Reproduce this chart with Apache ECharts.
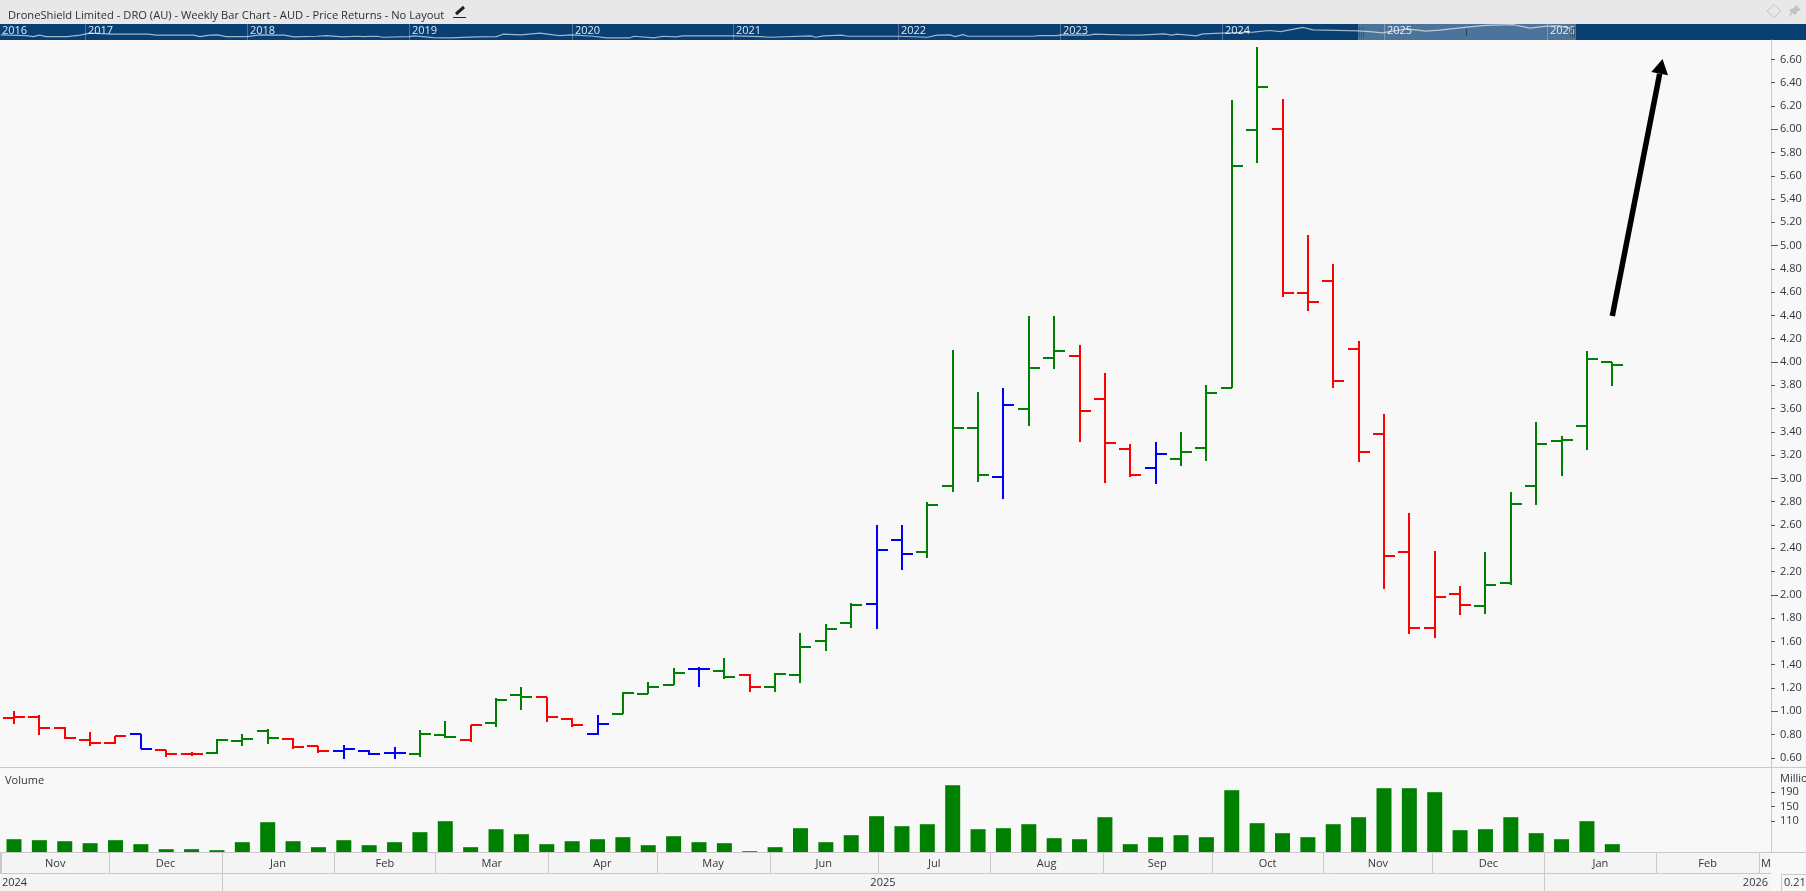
<!DOCTYPE html>
<html>
<head>
<meta charset="utf-8">
<title>DroneShield Limited - DRO (AU)</title>
<style>html,body{margin:0;padding:0;background:#f8f8f8;overflow:hidden}#c{width:1806px;height:891px}</style>
<script src="https://cdn.jsdelivr.net/npm/echarts@6/dist/echarts.min.js"></script>
</head>
<body>
<div id="c"></div>
<script>
const chartTitle = 'DroneShield Limited - DRO (AU) - Weekly Bar Chart - AUD - Price Returns - No Layout';
const opens  = [0.944,0.95,0.856,0.753,0.727,0.8,0.67,0.632,0.641,0.747,0.833,0.764,0.704,0.661,0.661,0.641,0.632,0.796,0.753,0.902,1.142,1.122,0.936,0.804,0.979,1.15,1.228,1.365,1.342,1.308,1.208,1.314,1.603,1.761,1.921,2.471,2.368,2.935,3.433,3.012,3.596,4.034,4.051,3.682,3.252,3.089,3.166,3.261,3.776,5.993,6.0,4.593,4.698,4.111,3.384,2.368,1.715,2.007,1.904,2.101,2.935,3.321,3.45,4.0];
const highs  = [1.0,0.967,0.867,0.818,0.79,0.8,0.67,0.65,0.758,0.801,0.844,0.767,0.704,0.707,0.67,0.69,0.838,0.916,0.884,1.11,1.208,1.125,0.944,0.967,1.162,1.251,1.368,1.377,1.457,1.32,1.331,1.669,1.749,1.927,2.6,2.6,2.797,4.103,3.742,3.777,4.395,4.395,4.146,3.905,3.295,3.312,3.398,3.802,6.251,6.706,6.259,5.091,4.842,4.18,3.553,2.703,2.376,2.076,2.368,2.883,3.484,3.364,4.094,4.0];
const lows   = [0.893,0.795,0.761,0.704,0.718,0.672,0.609,0.612,0.632,0.704,0.721,0.672,0.644,0.592,0.621,0.592,0.609,0.773,0.738,0.867,1.013,0.91,0.867,0.795,0.976,1.145,1.222,1.208,1.279,1.165,1.165,1.245,1.52,1.718,1.709,2.213,2.316,2.883,2.969,2.823,3.45,3.94,3.313,2.96,3.012,2.95,3.106,3.149,3.776,5.709,4.558,4.438,3.776,3.141,2.05,1.666,1.629,1.826,1.835,2.084,2.771,3.021,3.244,3.794];
const closes = [0.95,0.856,0.77,0.727,0.787,0.678,0.632,0.632,0.755,0.764,0.773,0.692,0.658,0.678,0.632,0.641,0.804,0.778,0.881,1.099,1.122,0.95,0.881,0.89,1.159,1.208,1.331,1.365,1.297,1.208,1.322,1.551,1.706,1.912,2.385,2.35,2.771,3.433,3.029,3.63,3.948,4.094,3.579,3.304,3.029,3.209,3.227,3.733,5.684,6.362,4.593,4.515,3.837,3.227,2.333,1.715,1.984,1.912,2.084,2.78,3.296,3.33,4.026,3.974];
const barColors = ['r','r','r','r','r','b','r','r','g','g','g','r','r','b','b','b','g','g','r','g','g','r','r','b','g','g','g','b','g','r','g','g','g','g','b','b','g','g','g','b','g','g','r','r','r','b','g','g','g','g','r','r','r','r','r','r','r','r','g','g','g','g','g','g'];
const volumes = [60.3,57.6,54.8,49.3,57.6,46.6,32.8,32.8,30,52.1,107.2,54.8,38.3,57.6,43.8,52.1,79.7,110,38.3,87.9,74.1,46.6,54.8,60.3,65.9,43.8,68.6,52.1,49.3,27.2,38.3,90.7,52.1,71.4,123.8,96.2,101.7,209.3,87.9,90.7,101.7,63.1,60.3,121,46.6,65.9,71.4,65.9,195.5,104.5,76.9,65.9,101.7,121,201,201,190,85.2,87.9,121,76.9,60.3,110,46.6];
const priceTicks = [0.6,0.8,1,1.2,1.4,1.6,1.8,2,2.2,2.4,2.6,2.8,3,3.2,3.4,3.6,3.8,4,4.2,4.4,4.6,4.8,5,5.2,5.4,5.6,5.8,6,6.2,6.4,6.6];
const priceMajorTicks = [1,2,3,4,5,6];
const volumeTicks = [110,150,190];
const monthNames = ['Nov','Dec','Jan','Feb','Mar','Apr','May','Jun','Jul','Aug','Sep','Oct','Nov','Dec','Jan','Feb'];
const monthEdges = [-0.51,3.76,8.18,12.63,16.61,21.06,25.33,29.78,34.05,38.49,42.91,47.21,51.61,55.91,60.32,64.74,68.77];
const lastMonthStub = 'Mar';
const yearEdges = [8.18,60.32];
const yearNames = ['2024','2025','2026'];
const navYears = [2017,2018,2019,2020,2021,2022,2023,2024,2025,2026];
const navYearMarks = [2017,2018,2019,2020.006,2021,2022.018,2023.019,2024.019,2025.019,2026.025];
const navX = [2016.48,2016.64,2016.68,2016.72,2016.76,2016.89,2016.97,2017.03,2017.17,2017.39,2017.44,2017.67,2017.71,2017.77,2017.82,2017.87,2018.0,2018.08,2018.23,2018.29,2018.43,2018.49,2018.59,2018.68,2018.72,2018.8,2018.84,2019.0,2019.03,2019.15,2019.25,2019.42,2019.54,2019.58,2019.69,
 2019.81,2019.89,2019.93,2020.0,2020.14,2020.22,2020.36,2020.39,2020.51,2020.57,2020.65,2020.69,2021.0,2021.17,2021.23,2021.24,2021.48,2021.51,2021.56,2021.67,2021.71,2022.02,2022.2,2022.26,2022.34,2022.37,2022.42,2022.45,2022.85,2022.89,
 2023.0,2023.02,2023.2,2023.23,2023.39,2023.51,2023.66,2023.71,2023.74,2023.86,2023.9,2024.02,2024.21,2024.31,2024.38,2024.52,2024.58,2024.86,2024.93,2025.01,2025.04,2025.16,2025.28,2025.36,2025.53,2025.65,2025.82,2025.92,2026.02,2026.1,2026.17];
const navLevels = [5,4.3,3.3,4.7,3.3,3.3,4.7,6.7,5.7,5.7,4.7,4.7,3.3,4.7,5,3.3,3.3,5,4.7,3,3.7,4.3,3,3.7,3.3,3.7,2.7,3.3,4,2.3,2,3,3.3,5.7,5,
 6.7,5,4.3,5,3.7,2,2,3.7,2,3.7,3,4,4,3.3,2.7,3.7,4,2.7,4,4.7,3.7,3.7,2.7,4.7,5,3.3,5.3,3.7,3.7,4.3,
 4.3,5,4.7,5.7,5,4.7,6,4.7,5.7,4,6,6.7,7.7,9.3,8.3,12.3,10,9,8.3,7,8,11,8.7,9.7,12.7,14.3,15,11.7,13.7,14,11.7];
const navWindow = [2024.858,2026.204];
const navMarker = 2025.525;
const arrowFrom = [63,4.395];
const arrowTo = [64.98,6.603];

const FONT = '"Open Sans"';
const TXT = '#33333d';
const LINE = '#c9c9c9';
const COLORS = {g:'#008000',r:'#ff0000',b:'#0000ff'};
const xMin = -14/25.37, xMax = 1757/25.37;
const hiddenX = (g)=>({type:'value',gridIndex:g,min:xMin,max:xMax,show:false});
const hiddenY = (g,min,max)=>({type:'value',gridIndex:g,min:min,max:max,show:false});

function rect(x,y,w,h,fill){return {type:'rect',shape:{x:x,y:y,width:w,height:h},style:{fill:fill},silent:true};}

function renderBar(params,api){
  const i=api.value(0);
  const x=Math.round(api.coord([i,0])[0]);
  const py=v=>Math.round(api.coord([i,v])[1]);
  const fill=COLORS[barColors[i]];
  const yH=py(api.value(2)),yL=py(api.value(3));
  return {type:'group',children:[
    rect(x-1,yH,2,Math.max(yL-yH,2),fill),
    rect(x-11,py(api.value(1))-1,11,2,fill),
    rect(x,py(api.value(4))-1,11,2,fill)
  ]};
}
function renderMonth(params,api){
  const i=params.dataIndex;
  const a=api.coord([monthEdges[i],0]);
  const top=params.coordSys.y,h=params.coordSys.height;
  const x0=Math.round(a[0]);
  const kids=[rect(x0,top,1,h,LINE)];
  let tx,align;
  if(i<monthNames.length){
    tx=(a[0]+api.coord([monthEdges[i+1],0])[0])/2;align='center';
  }else{tx=x0+2;align='left';}
  kids.push({type:'text',x:tx,y:top+h/2+1,style:{text:i<monthNames.length?monthNames[i]:lastMonthStub,font:'11px '+FONT,fill:TXT,align:align,verticalAlign:'middle'},silent:true});
  return {type:'group',children:kids};
}
function renderYear(params,api){
  const top=params.coordSys.y,h=params.coordSys.height;
  const kids=yearEdges.map(e=>rect(Math.round(api.coord([e,0])[0]),top,1,h,LINE));
  const e0=api.coord([yearEdges[0],0])[0],e1=api.coord([yearEdges[1],0])[0];
  const T=(t,x,al)=>({type:'text',x:x,y:top+h/2+1,style:{text:t,font:'11px '+FONT,fill:TXT,align:al,verticalAlign:'middle'},silent:true});
  kids.push(T(yearNames[0],2,'left'),T(yearNames[1],(e0+e1)/2,'center'),T(yearNames[2],params.coordSys.x+params.coordSys.width-3,'right'));
  return {type:'group',children:kids};
}
function renderNavMarks(params,api){
  const top=params.coordSys.y,h=params.coordSys.height;
  const kids=[];
  navYearMarks.forEach((m,i)=>{
    const x=Math.round(api.coord([m,0])[0]);
    kids.push(rect(x,top,1,h,'rgba(255,255,255,0.28)'));
    kids.push({type:'text',x:x+3,y:top+h/2-1,style:{text:String(navYears[i]),font:'11px '+FONT,fill:'#dfe7ef',align:'left',verticalAlign:'middle'},silent:true});
  });
  kids.push({type:'text',x:2,y:top+h/2-1,style:{text:'2016',font:'11px '+FONT,fill:'#dfe7ef',align:'left',verticalAlign:'middle'},silent:true});
  const a=Math.round(api.coord([navWindow[0],0])[0]),b=Math.round(api.coord([navWindow[1],0])[0]);
  kids.push(rect(a,top,b-a,h,'rgba(255,255,255,0.27)'));
  [a+1,a+3,a+5,b-6,b-4,b-2].forEach(x=>kids.push(rect(x,top+3,1,h-5,'rgba(70,80,95,0.75)')));
  kids.push(rect(Math.round(api.coord([navMarker,0])[0]),top+5,1,7,'rgba(40,50,65,0.8)'));
  return {type:'group',children:kids};
}
function renderArrow(params,api){
  const s=api.coord(arrowFrom),t=api.coord(arrowTo);
  const dx=t[0]-s[0],dy=t[1]-s[1],L=Math.hypot(dx,dy),ux=dx/L,uy=dy/L,nx=-uy,ny=ux;
  const head=15,half=8.5;
  const bx=t[0]-ux*head,by=t[1]-uy*head;
  return {type:'group',children:[
    {type:'line',shape:{x1:s[0],y1:s[1],x2:bx,y2:by},style:{stroke:'#000',lineWidth:5.5},silent:true},
    {type:'polygon',shape:{points:[[t[0],t[1]],[bx+nx*half,by+ny*half],[bx-nx*half,by-ny*half]]},style:{fill:'#000'},silent:true}
  ]};
}

const barData = highs.map((h,i)=>[i,opens[i],h,lows[i],closes[i]]);
const chart = echarts.init(document.getElementById('c'),null,{renderer:'canvas'});
chart.setOption({
  animation:false,
  backgroundColor:'#f8f8f8',
  textStyle:{fontFamily:FONT},
  title:{text:chartTitle,left:3,top:5,textStyle:{fontSize:11.17,fontWeight:'normal',color:'#2f2f2f',fontFamily:FONT}},
  grid:[
    {left:0,right:0,top:24,height:16,show:true,backgroundColor:'#0a3f73',borderWidth:0},
    {left:0,width:1771,top:40,height:727},
    {left:0,width:1771,top:767,height:85},
    {left:0,width:1771,top:852,height:21,show:true,backgroundColor:'#f4f4f4',borderWidth:0},
    {left:0,width:1771,top:873,height:18,show:true,backgroundColor:'#f4f4f4',borderWidth:0}
  ],
  xAxis:[
    {type:'value',gridIndex:0,min:2016.4753,max:2027.6235,show:false},
    hiddenX(1),hiddenX(2),hiddenX(3),hiddenX(4)
  ],
  yAxis:[
    hiddenY(0,0,15.7),
    {type:'value',gridIndex:1,position:'right',min:4-405/116.4,max:4+322/116.4,splitLine:{show:false},
      axisLine:{show:true,onZero:false,lineStyle:{color:LINE,width:1}},
      axisTick:{show:true,length:4,customValues:priceTicks,lineStyle:{color:'#555',width:1}},
      axisLabel:{show:true,margin:9,customValues:priceTicks,formatter:v=>v.toFixed(2),fontSize:11,color:TXT,fontFamily:FONT}},
    {type:'value',gridIndex:2,position:'right',min:25,max:259.5,splitLine:{show:false},
      axisLine:{show:true,onZero:false,lineStyle:{color:LINE,width:1}},
      axisTick:{show:true,length:4,customValues:volumeTicks,lineStyle:{color:'#555',width:1}},
      axisLabel:{show:true,margin:9,customValues:volumeTicks,formatter:v=>String(v),fontSize:11,color:TXT,fontFamily:FONT}},
    hiddenY(3,0,1),hiddenY(4,0,1),
    {type:'value',gridIndex:1,position:'right',min:4-405/116.4,max:4+322/116.4,splitLine:{show:false},
      axisLine:{show:false,onZero:false},
      axisTick:{show:true,length:7,customValues:priceMajorTicks,lineStyle:{color:'#555',width:1}},
      axisLabel:{show:false}}
  ],
  series:[
    {type:'line',name:'history',xAxisIndex:0,yAxisIndex:0,showSymbol:false,silent:true,z:3,
      lineStyle:{color:'rgba(255,255,255,0.62)',width:1.2},data:navX.map((x,i)=>[x,navLevels[i]])},
    {type:'custom',name:'navMarks',xAxisIndex:0,yAxisIndex:0,silent:true,z:2,renderItem:renderNavMarks,data:[[navWindow[0],0]]},
    {type:'custom',name:'price',xAxisIndex:1,yAxisIndex:1,silent:true,renderItem:renderBar,encode:{x:0,y:[1,2,3,4]},data:barData},
    {type:'custom',name:'arrow',xAxisIndex:1,yAxisIndex:1,silent:true,z:4,renderItem:renderArrow,data:[[arrowTo[0],arrowTo[1]]]},
    {type:'bar',name:'Volume',xAxisIndex:2,yAxisIndex:2,silent:true,barWidth:15,itemStyle:{color:'#008000'},data:volumes.map((v,i)=>[i,v])},
    {type:'custom',name:'months',xAxisIndex:3,yAxisIndex:3,silent:true,clip:true,renderItem:renderMonth,data:monthEdges.map(e=>[e,0.5])},
    {type:'custom',name:'years',xAxisIndex:4,yAxisIndex:4,silent:true,renderItem:renderYear,data:[[0,0.5]]}
  ],
  graphic:[
    {type:'rect',z:0,silent:true,shape:{x:0,y:0,width:1806,height:24},style:{fill:'#e8e8e8'}},
    {type:'line',z:5,silent:true,shape:{x1:0,y1:767.5,x2:1806,y2:767.5},style:{stroke:LINE,lineWidth:1}},
    {type:'line',z:5,silent:true,shape:{x1:0,y1:852.5,x2:1806,y2:852.5},style:{stroke:LINE,lineWidth:1}},
    {type:'line',z:5,silent:true,shape:{x1:0,y1:873.5,x2:1771,y2:873.5},style:{stroke:LINE,lineWidth:1}},
    {type:'line',z:5,silent:true,shape:{x1:0.5,y1:852,x2:0.5,y2:873},style:{stroke:LINE,lineWidth:1}},
    {type:'text',z:6,silent:true,x:5,y:775,style:{text:'Volume',font:'11px '+FONT,fill:TXT}},
    {type:'text',z:6,silent:true,x:1780,y:773,style:{text:'Millions',font:'11px '+FONT,fill:TXT}},
    {type:'rect',z:6,silent:true,shape:{x:1781.5,y:874.5,width:40,height:20},style:{fill:'#f8f8f8',stroke:LINE,lineWidth:1}},
    {type:'text',z:7,silent:true,x:1784,y:877,style:{text:'0.21',font:'11px '+FONT,fill:TXT}},
    {type:'line',z:6,silent:true,shape:{x1:456,y1:14,x2:464,y2:7},style:{stroke:'#222',lineWidth:3}},
    {type:'line',z:6,silent:true,shape:{x1:453,y1:17.5,x2:466,y2:17.5},style:{stroke:'#222',lineWidth:1}},
    {type:'polygon',z:6,silent:true,shape:{points:[[1774,4.5],[1781,11],[1774,17.5],[1767,11]]},style:{fill:'none',stroke:'#c4c4c4',lineWidth:1}},
    {type:'polygon',z:6,silent:true,shape:{points:[[1796,5],[1801,10],[1798,11],[1795,15],[1793,13],[1788,18],[1791,12],[1789,10],[1794,8]]},style:{fill:'#c2c2c2'}}
  ]
});
</script>
</body>
</html>
